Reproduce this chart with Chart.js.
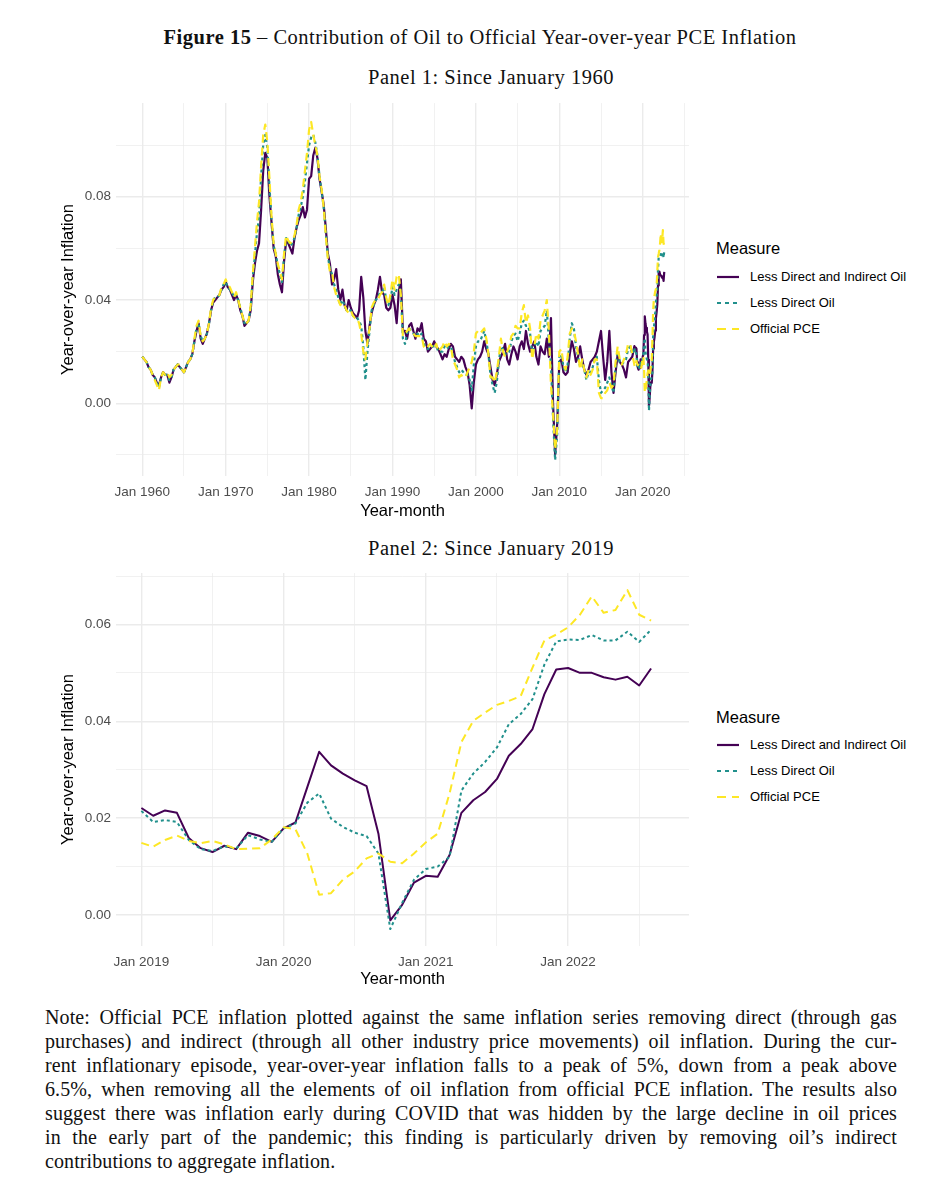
<!DOCTYPE html>
<html>
<head>
<meta charset="utf-8">
<script src="https://cdn.jsdelivr.net/npm/chart.js@4.4.1/dist/chart.umd.min.js"></script>
<style>
html,body{margin:0;padding:0;background:#fff;}
#page{position:relative;width:940px;height:1200px;overflow:hidden;background:#fff;font-family:"Liberation Serif","Times New Roman",serif;color:#111;}
.ctr{position:absolute;width:940px;text-align:center;white-space:nowrap;line-height:24px;font-size:20.5px;letter-spacing:0.5px;}
#fig{top:25px;left:10px;}
#p1t{top:65px;left:21px;}
#p2t{top:536px;left:21px;}
canvas{position:absolute;left:0;}
#c1{top:90px;}
#c2{top:560px;}
.lg{position:absolute;font-family:"Liberation Sans",Arial,sans-serif;color:#000;white-space:nowrap;}
.lgt{font-size:16.5px;line-height:20px;left:716px;}
.lgi{font-size:13px;line-height:16px;left:750px;}
.key{position:absolute;left:716px;width:24px;height:8px;}
#note{position:absolute;left:45px;width:852px;top:1005px;font-size:20px;letter-spacing:0.1px;line-height:24px;color:#111;}
.ln{text-align:justify;text-align-last:justify;white-space:nowrap;}
.ln.last{text-align-last:left;}
</style>
</head>
<body>
<div id="page">
  <div class="ctr" id="fig"><b>Figure 15</b> – Contribution of Oil to Official Year-over-year PCE Inflation</div>
  <div class="ctr" id="p1t">Panel 1: Since January 1960</div>
  <canvas id="c1" width="700" height="440"></canvas>
  <div class="ctr" id="p2t">Panel 2: Since January 2019</div>
  <canvas id="c2" width="700" height="440"></canvas>
  <div id="legends"></div>
  <div id="note">
    <div class="ln">Note: Official PCE inflation plotted against the same inflation series removing direct (through gas</div>
    <div class="ln">purchases) and indirect (through all other industry price movements) oil inflation. During the cur-</div>
    <div class="ln">rent inflationary episode, year-over-year inflation falls to a peak of 5%, down from a peak above</div>
    <div class="ln">6.5%, when removing all the elements of oil inflation from official PCE inflation. The results also</div>
    <div class="ln">suggest there was inflation early during COVID that was hidden by the large decline in oil prices</div>
    <div class="ln">in the early part of the pandemic; this finding is particularly driven by removing oil’s indirect</div>
    <div class="ln last">contributions to aggregate inflation.</div>
  </div>
</div>
<script>
// ---------------- DATA ----------------
const seriesNames = ["Less Direct and Indirect Oil", "Less Direct Oil", "Official PCE"];
const seriesColors = ["#440154", "#21908C", "#FDE725"];

// Panel 1 history (quarterly readings: Jan, Apr, Jul, Oct) 1960-2018
const p1Years = [1960,1961,1962,1963,1964,1965,1966,1967,1968,1969,1970,1971,1972,1973,1974,1975,1976,1977,1978,1979,
  1980,1981,1982,1983,1984,1985,1986,1987,1988,1989,1990,1991,1992,1993,1994,1995,1996,1997,1998,1999,
  2000,2001,2002,2003,2004,2005,2006,2007,2008,2009,2010,2011,2012,2013,2014,2015,2016,2017,2018];
const p1Months = [1,4,7,10];

const p1LessBoth = [
  0.018,0.017,0.016,0.014, 0.013,0.011,0.010,0.008, 0.007,0.010,0.012,0.011, 0.011,0.008,0.010,0.013,
  0.014,0.015,0.014,0.013, 0.012,0.014,0.016,0.017, 0.019,0.024,0.028,0.031, 0.025,0.023,0.025,0.027,
  0.031,0.036,0.039,0.040, 0.041,0.042,0.044,0.045, 0.047,0.045,0.044,0.042, 0.040,0.042,0.040,0.036,
  0.034,0.030,0.031,0.032, 0.036,0.047,0.054,0.059, 0.062,0.075,0.090,0.097, 0.095,0.080,0.070,0.060,
  0.057,0.050,0.046,0.043, 0.055,0.063,0.062,0.060, 0.058,0.064,0.068,0.071, 0.073,0.076,0.072,0.075,
  0.087,0.088,0.096,0.099, 0.095,0.087,0.082,0.077, 0.068,0.058,0.054,0.046, 0.048,0.052,0.044,0.040,
  0.044,0.038,0.036,0.040, 0.037,0.035,0.034,0.033, 0.036,0.049,0.041,0.028, 0.023,0.030,0.035,0.038,
  0.040,0.044,0.049,0.043, 0.042,0.037,0.036,0.037, 0.042,0.038,0.031,0.043, 0.048,0.028,0.028,0.025,
  0.030,0.031,0.028,0.025, 0.029,0.028,0.031,0.025, 0.024,0.020,0.021,0.022, 0.024,0.022,0.021,0.019,
  0.017,0.019,0.018,0.021, 0.023,0.022,0.018,0.017, 0.016,0.018,0.017,0.014, 0.012,0.007,-0.002,0.008,
  0.015,0.017,0.018,0.020, 0.024,0.021,0.019,0.014, 0.009,0.007,0.011,0.016, 0.018,0.020,0.023,0.017,
  0.015,0.019,0.022,0.020, 0.017,0.022,0.024,0.021, 0.028,0.023,0.020,0.022, 0.024,0.018,0.015,0.022,
  0.020,0.019,0.025,0.018, 0.033,0.000,-0.020,-0.008, 0.016,0.017,0.012,0.011, 0.012,0.019,0.024,0.021,
  0.016,0.018,0.022,0.017, 0.013,0.011,0.013,0.016, 0.017,0.018,0.020,0.024, 0.028,0.018,0.009,0.016,
  0.028,0.012,0.004,0.012, 0.019,0.016,0.015,0.013, 0.010,0.016,0.017,0.018
];
const p1LessDirect = [
  0.018,0.017,0.016,0.014, 0.013,0.011,0.010,0.008, 0.006,0.010,0.012,0.011, 0.011,0.009,0.010,0.013,
  0.014,0.015,0.014,0.013, 0.012,0.014,0.016,0.017, 0.019,0.024,0.029,0.031, 0.026,0.024,0.025,0.027,
  0.031,0.036,0.040,0.041, 0.041,0.042,0.044,0.046, 0.047,0.045,0.044,0.043, 0.041,0.042,0.040,0.037,
  0.034,0.031,0.031,0.032, 0.037,0.049,0.057,0.066, 0.072,0.088,0.100,0.104, 0.099,0.084,0.071,0.061,
  0.058,0.053,0.050,0.047, 0.057,0.064,0.063,0.061, 0.062,0.064,0.068,0.073, 0.076,0.080,0.086,0.093,
  0.100,0.103,0.104,0.101, 0.096,0.088,0.082,0.076, 0.066,0.057,0.052,0.050, 0.046,0.044,0.041,0.038,
  0.040,0.038,0.036,0.036, 0.036,0.034,0.033,0.033, 0.032,0.030,0.022,0.009, 0.020,0.028,0.036,0.038,
  0.040,0.041,0.043,0.043, 0.045,0.040,0.038,0.040, 0.045,0.042,0.044,0.046, 0.043,0.025,0.023,0.027,
  0.029,0.028,0.027,0.026, 0.027,0.026,0.027,0.023, 0.022,0.021,0.022,0.022, 0.022,0.022,0.020,0.020,
  0.020,0.022,0.021,0.022, 0.022,0.019,0.016,0.014, 0.012,0.013,0.012,0.011, 0.011,0.009,0.005,0.015,
  0.022,0.024,0.024,0.026, 0.028,0.024,0.019,0.011, 0.007,0.004,0.008,0.016, 0.022,0.021,0.019,0.019,
  0.020,0.024,0.026,0.027, 0.024,0.027,0.031,0.032, 0.030,0.030,0.027,0.019, 0.022,0.024,0.022,0.028,
  0.029,0.030,0.036,0.024, 0.015,-0.006,-0.022,-0.012, 0.018,0.019,0.014,0.012, 0.015,0.025,0.031,0.029,
  0.022,0.018,0.014,0.016, 0.013,0.009,0.012,0.012, 0.014,0.017,0.018,0.009, 0.004,0.005,0.006,0.008,
  0.010,0.007,0.004,0.014, 0.020,0.016,0.015,0.016, 0.017,0.021,0.022,0.019
];
const p1Official = [
  0.018,0.017,0.016,0.014, 0.013,0.011,0.009,0.007, 0.005,0.010,0.012,0.011, 0.012,0.010,0.011,0.013,
  0.014,0.015,0.015,0.013, 0.012,0.014,0.016,0.017, 0.019,0.025,0.030,0.032, 0.026,0.024,0.025,0.027,
  0.031,0.037,0.040,0.041, 0.041,0.042,0.045,0.046, 0.048,0.046,0.045,0.043, 0.041,0.043,0.040,0.037,
  0.034,0.031,0.031,0.032, 0.038,0.050,0.060,0.070, 0.078,0.092,0.104,0.108, 0.101,0.087,0.072,0.062,
  0.058,0.054,0.051,0.048, 0.058,0.065,0.063,0.062, 0.063,0.065,0.069,0.075, 0.078,0.083,0.090,0.097,
  0.106,0.109,0.104,0.100, 0.096,0.088,0.083,0.076, 0.065,0.056,0.051,0.051, 0.045,0.042,0.040,0.038,
  0.039,0.038,0.036,0.035, 0.036,0.034,0.033,0.033, 0.031,0.027,0.020,0.017, 0.024,0.029,0.037,0.039,
  0.040,0.040,0.042,0.043, 0.046,0.041,0.038,0.042, 0.048,0.044,0.049,0.050, 0.042,0.026,0.027,0.028,
  0.029,0.027,0.027,0.026, 0.026,0.026,0.026,0.022, 0.021,0.022,0.023,0.022, 0.021,0.023,0.020,0.021,
  0.022,0.024,0.022,0.023, 0.022,0.017,0.015,0.013, 0.010,0.011,0.010,0.010, 0.012,0.014,0.016,0.020,
  0.027,0.028,0.027,0.028, 0.029,0.025,0.019,0.010, 0.010,0.008,0.012,0.018, 0.025,0.020,0.018,0.020,
  0.022,0.026,0.027,0.030, 0.029,0.029,0.035,0.038, 0.031,0.034,0.029,0.017, 0.022,0.027,0.025,0.032,
  0.034,0.036,0.040,0.028, 0.007,-0.004,-0.018,-0.010, 0.020,0.021,0.015,0.013, 0.018,0.027,0.029,0.028,
  0.024,0.019,0.013,0.017, 0.013,0.010,0.013,0.011, 0.013,0.017,0.017,0.004, 0.002,0.002,0.004,0.005,
  0.008,0.006,0.007,0.016, 0.022,0.017,0.015,0.017, 0.019,0.023,0.023,0.019
];

// Panel 2 (monthly) Jan 2019 - Aug 2022 ; also appended to the end of panel 1
const p2Dates = ["2019-01","2019-02","2019-03","2019-04","2019-05","2019-06","2019-07","2019-08","2019-09","2019-10","2019-11","2019-12",
  "2020-01","2020-02","2020-03","2020-04","2020-05","2020-06","2020-07","2020-08","2020-09","2020-10","2020-11","2020-12",
  "2021-01","2021-02","2021-03","2021-04","2021-05","2021-06","2021-07","2021-08","2021-09","2021-10","2021-11","2021-12",
  "2022-01","2022-02","2022-03","2022-04","2022-05","2022-06","2022-07","2022-08"];
const p2LessBoth = [
  0.0221,0.0205,0.0216,0.0211,0.0159,0.0138,0.0130,0.0143,0.0136,0.0170,0.0163,0.0151,
  0.0179,0.0191,0.0264,0.0337,0.0309,0.0292,0.0278,0.0266,0.0168,-0.0011,0.0021,0.0067,
  0.0081,0.0079,0.0124,0.0211,0.0237,0.0254,0.0281,0.0329,0.0353,0.0384,0.0456,0.0507,
  0.0510,0.0500,0.0500,0.0491,0.0486,0.0492,0.0474,0.0509
];
const p2LessDirect = [
  0.0215,0.0192,0.0196,0.0192,0.0155,0.0136,0.0132,0.0142,0.0137,0.0165,0.0156,0.0151,
  0.0179,0.0189,0.0232,0.0251,0.0199,0.0182,0.0170,0.0163,0.0127,-0.0029,0.0025,0.0073,
  0.0095,0.0100,0.0120,0.0257,0.0292,0.0316,0.0346,0.0394,0.0415,0.0446,0.0517,0.0565,
  0.0569,0.0568,0.0578,0.0567,0.0567,0.0585,0.0564,0.0589
];
const p2Official = [
  0.0149,0.0141,0.0155,0.0164,0.0153,0.0148,0.0153,0.0146,0.0136,0.0137,0.0138,0.0156,
  0.0181,0.0177,0.0127,0.0042,0.0045,0.0073,0.0090,0.0117,0.0127,0.0110,0.0107,0.0127,
  0.0150,0.0168,0.0251,0.0357,0.0401,0.0418,0.0434,0.0442,0.0452,0.0511,0.0567,0.0579,
  0.0594,0.0620,0.0658,0.0624,0.0630,0.0671,0.0620,0.0608
];

// Tick / grid definitions
const p1XMajor = [1960,1970,1980,1990,2000,2010,2020];
const p1XLabels = ["Jan 1960","Jan 1970","Jan 1980","Jan 1990","Jan 2000","Jan 2010","Jan 2020"];
const p1XMinor = [1965,1975,1985,1995,2005,2015,2025];
const p1YMajor = [0,0.04,0.08];
const p1YLabels = ["0.00","0.04","0.08"];
const p1YMinor = [-0.02,0.02,0.06,0.10];
const p2XMajor = [0,12,24,36];
const p2XLabels = ["Jan 2019","Jan 2020","Jan 2021","Jan 2022"];
const p2XMinor = [6,18,30,42];
const p2YMajor = [0,0.02,0.04,0.06];
const p2YLabels = ["0.00","0.02","0.04","0.06"];
const p2YMinor = [0.01,0.03,0.05,0.07];

// ---------------- BUILD ----------------
const SANS = "'Liberation Sans', Arial, sans-serif";
const ymOf = s => s.split("-").map(Number);
const p1X = [];
p1Years.forEach(y => p1Months.forEach(m => p1X.push(y + (m - 1) / 12)));
p2Dates.forEach(d => { const [y, m] = ymOf(d); p1X.push(y + (m - 1) / 12); });
const p2X = p2Dates.map(d => { const [y, m] = ymOf(d); return (y - 2019) * 12 + (m - 1); });

const p1Series = [p1LessBoth.concat(p2LessBoth), p1LessDirect.concat(p2LessDirect), p1Official.concat(p2Official)];
const p2Series = [p2LessBoth, p2LessDirect, p2Official];
const dashes = [[], [3, 3], [8, 5]];

function datasets(xs, series, width) {
  return series.map((vals, i) => ({
    label: seriesNames[i],
    data: vals.map((v, k) => ({x: xs[k], y: v})),
    borderColor: seriesColors[i],
    backgroundColor: seriesColors[i],
    borderWidth: width,
    borderDash: dashes[i],
    borderCapStyle: 'butt',
    borderJoinStyle: 'round',
    pointRadius: 0,
    tension: 0,
    fill: false,
    order: 3 - i
  }));
}

function axis(major, labels, minor, min, max) {
  const all = major.map((v, i) => ({value: v, big: true, lab: labels[i]}))
    .concat(minor.map(v => ({value: v, big: false, lab: ''})))
    .sort((a, b) => a.value - b.value);
  return {
    type: 'linear', min: min, max: max,
    afterBuildTicks: s => { s.ticks = all.map(t => ({value: t.value})); },
    ticks: {autoSkip: false, maxRotation: 0, minRotation: 0, color: '#4D4D4D',
      font: {family: SANS, size: 13.5}, callback: (v, i) => (all[i] ? all[i].lab : '')},
    grid: {color: '#EBEBEB', drawTicks: false,
      lineWidth: c => (c.tick && all[c.index] && all[c.index].big) ? 1.4 : 0.7},
    border: {display: false}
  };
}

function makeChart(id, xs, series, xAx, yAx, xTitlePad, width) {
  xAx.afterFit = s => { s.height = 54; };
  xAx.ticks.padding = 8;
  xAx.title = {display: true, text: 'Year-month', color: '#000', font: {family: SANS, size: 16.5}, padding: {top: 0, bottom: xTitlePad}};
  yAx.afterFit = s => { s.width = 116; };
  yAx.ticks.padding = 5;
  yAx.title = {display: true, text: 'Year-over-year Inflation', color: '#000', font: {family: SANS, size: 16.5}, padding: {top: 59, bottom: 0}};
  return new Chart(document.getElementById(id), {
    type: 'line',
    data: {datasets: datasets(xs, series, width)},
    options: {
      responsive: false, animation: false, devicePixelRatio: 1,
      layout: {padding: {left: 0, right: 11, top: 11, bottom: 0}},
      plugins: {legend: {display: false}, tooltip: {enabled: false}},
      scales: {x: xAx, y: yAx}
    }
  });
}

makeChart('c1', p1X, p1Series,
  axis(p1XMajor, p1XLabels, p1XMinor, 1956.85, 2025.55),
  axis(p1YMajor, p1YLabels, p1YMinor, -0.0282, 0.1163), 9, 2.2);
makeChart('c2', p2X, p2Series,
  axis(p2XMajor, p2XLabels, p2XMinor, -2.14, 46.2),
  axis(p2YMajor, p2YLabels, p2YMinor, -0.0064, 0.0706), 11, 2);

// ---------------- LEGENDS (HTML) ----------------
function legend(titleCenterY, itemCenters) {
  const box = document.getElementById('legends');
  let html = `<div class="lg lgt" style="top:${titleCenterY - 10}px">Measure</div>`;
  seriesNames.forEach((n, i) => {
    const cy = itemCenters[i];
    const dash = dashes[i].length ? `stroke-dasharray="${dashes[i][0] + 1} ${dashes[i][1] + 1}"` : '';
    html += `<svg class="key" style="top:${cy - 4}px" width="24" height="8"><line x1="1" y1="4" x2="23" y2="4" stroke="${seriesColors[i]}" stroke-width="2.2" ${dash}/></svg>`;
    html += `<div class="lg lgi" style="top:${cy - 8}px">${n}</div>`;
  });
  box.insertAdjacentHTML('beforeend', html);
}
legend(248, [277, 303, 329]);
legend(717, [745, 771, 797]);
</script>
</body>
</html>
